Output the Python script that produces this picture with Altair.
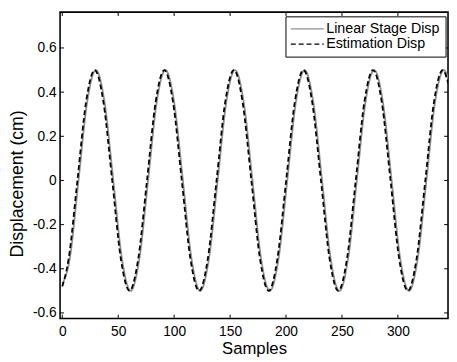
import altair as alt
import pandas as pd

SERIES = ["Linear Stage Disp", "Estimation Disp"]

# Linear stage displacement (grey solid) - key points
lin_x = [0, 6.7, 14.5, 22.2, 30.0, 37.8, 45.6, 53.3, 61.1, 68.9, 76.7, 84.4,
         92.2, 100.0, 107.8, 115.5, 123.3, 131.1, 138.9, 146.6, 154.4, 162.2,
         170.0, 177.7, 185.5, 193.3, 201.1, 208.8, 216.6, 224.4, 232.2, 239.9,
         247.7, 255.5, 263.3, 271.0, 278.8, 286.6, 294.4, 302.1, 309.9, 317.7,
         325.5, 333.2, 341.0, 345]
lin_y = [-0.47, -0.354, 0, 0.354,
         0.5, 0.354, 0, -0.354, -0.5, -0.354, 0, 0.354,
         0.5, 0.354, 0, -0.354, -0.5, -0.354, 0, 0.354,
         0.5, 0.354, 0, -0.354, -0.5, -0.354, 0, 0.354,
         0.5, 0.354, 0, -0.354, -0.5, -0.354, 0, 0.354,
         0.5, 0.354, 0, -0.354, -0.5, -0.354, 0, 0.354,
         0.5, 0.46]

# Estimated displacement (black dashed)
est_x = [0, 5.7, 13.5, 21.2, 29.0, 36.8, 44.6, 52.3, 60.1, 67.9, 75.7, 83.4,
         91.2, 99.0, 106.8, 114.5, 122.3, 130.1, 137.9, 145.6, 153.4, 161.2,
         169.0, 176.7, 184.5, 192.3, 200.1, 207.8, 215.6, 223.4, 231.2, 238.9,
         246.7, 254.5, 262.3, 270.0, 277.8, 285.6, 293.4, 301.1, 308.9, 316.7,
         324.5, 332.2, 340.0, 345]
est_y = [-0.48, -0.354, 0, 0.354,
         0.5, 0.354, 0, -0.354, -0.5, -0.354, 0, 0.354,
         0.5, 0.354, 0, -0.354, -0.5, -0.354, 0, 0.354,
         0.5, 0.354, 0, -0.354, -0.5, -0.354, 0, 0.354,
         0.5, 0.354, 0, -0.354, -0.5, -0.354, 0, 0.354,
         0.5, 0.354, 0, -0.354, -0.5, -0.354, 0, 0.354,
         0.5, 0.44]

x_ticks = [0, 50, 100, 150, 200, 250, 300]
y_ticks = [-0.6, -0.4, -0.2, 0, 0.2, 0.4, 0.6]

X_DOMAIN = [-2.0, 344.8]
Y_DOMAIN = [-0.6255, 0.7623]
W, H = 395, 312
FONT = "Liberation Sans"

rows = []
for i, (xv, yv) in enumerate(zip(lin_x, lin_y)):
    rows.append({"x": xv, "y": yv, "series": SERIES[0], "o": i})
for i, (xv, yv) in enumerate(zip(est_x, est_y)):
    rows.append({"x": xv, "y": yv, "series": SERIES[1], "o": i})
df = pd.DataFrame(rows)

xs = alt.Scale(domain=X_DOMAIN, nice=False, zero=False)
ys = alt.Scale(domain=Y_DOMAIN, nice=False, zero=False)

legend_opts = dict(orient="none", legendX=229.5, legendY=4.3,
                   title=None, symbolType="M-1.3,0H4.7",
                   symbolSize=124.7, symbolStrokeWidth=1.3,
                   labelOffset=21.5, labelFontSize=14.5,
                   labelFont=FONT, labelColor="black",
                   padding=5.5, rowPadding=0.5,
                   strokeColor="black", fillColor="white",
                   cornerRadius=0)

lines = alt.Chart(df).mark_line(clip=True, strokeWidth=1.8, interpolate="monotone").encode(
    x=alt.X("x:Q", scale=xs,
            axis=alt.Axis(values=x_ticks, format="d", title="Samples",
                          titleFontSize=17, titleY=35.5, titleBaseline="alphabetic",
                          labelPadding=6)),
    y=alt.Y("y:Q", scale=ys,
            axis=alt.Axis(values=y_ticks, title="Displacement (cm)",
                          labelExpr="datum.value == 0 ? '0' : (datum.value < 0 ? '-' : '') + format(abs(datum.value), '.1f')",
                          titleFontSize=18, titleX=-38.5, titleY=174.4,
                          titleBaseline="alphabetic", titleAlign="center",
                          labelPadding=4)),
    color=alt.Color("series:N",
                    scale=alt.Scale(domain=SERIES, range=["#8f8f8f", "#000000"]),
                    legend=alt.Legend(**legend_opts)),
    strokeDash=alt.StrokeDash("series:N",
                              scale=alt.Scale(domain=SERIES, range=[[1, 0], [5, 3]]),
                              legend=alt.Legend(**legend_opts)),
    order="o:Q",
)

xt = pd.DataFrame({"v": x_ticks})
yt = pd.DataFrame({"v": y_ticks})

tick_bottom = alt.Chart(xt).mark_rule(color="black", strokeWidth=1).encode(
    x=alt.X("v:Q", scale=xs), y=alt.value(H), y2=alt.value(H - 4))
tick_top = alt.Chart(xt).mark_rule(color="black", strokeWidth=1).encode(
    x=alt.X("v:Q", scale=xs), y=alt.value(0), y2=alt.value(4))
tick_left = alt.Chart(yt).mark_rule(color="black", strokeWidth=1).encode(
    y=alt.Y("v:Q", scale=ys), x=alt.value(0), x2=alt.value(4))
tick_right = alt.Chart(yt).mark_rule(color="black", strokeWidth=1).encode(
    y=alt.Y("v:Q", scale=ys), x=alt.value(W), x2=alt.value(W - 4))

chart = alt.layer(lines, tick_bottom, tick_top, tick_left, tick_right).properties(
    width=W, height=H,
    padding={"left": 53, "top": 1, "right": 1, "bottom": 40},
    autosize=alt.AutoSizeParams(type="none"),
    background="white",
).configure_view(
    stroke="black", strokeWidth=1.6
).configure_axis(
    domain=False, ticks=False, tickSize=0, grid=False,
    labelFont=FONT, labelFontSize=14, labelColor="black",
    titleFont=FONT, titleColor="black", titleFontWeight="normal",
)

chart.save("out.html", embed_options={"renderer": "svg", "actions": False})
